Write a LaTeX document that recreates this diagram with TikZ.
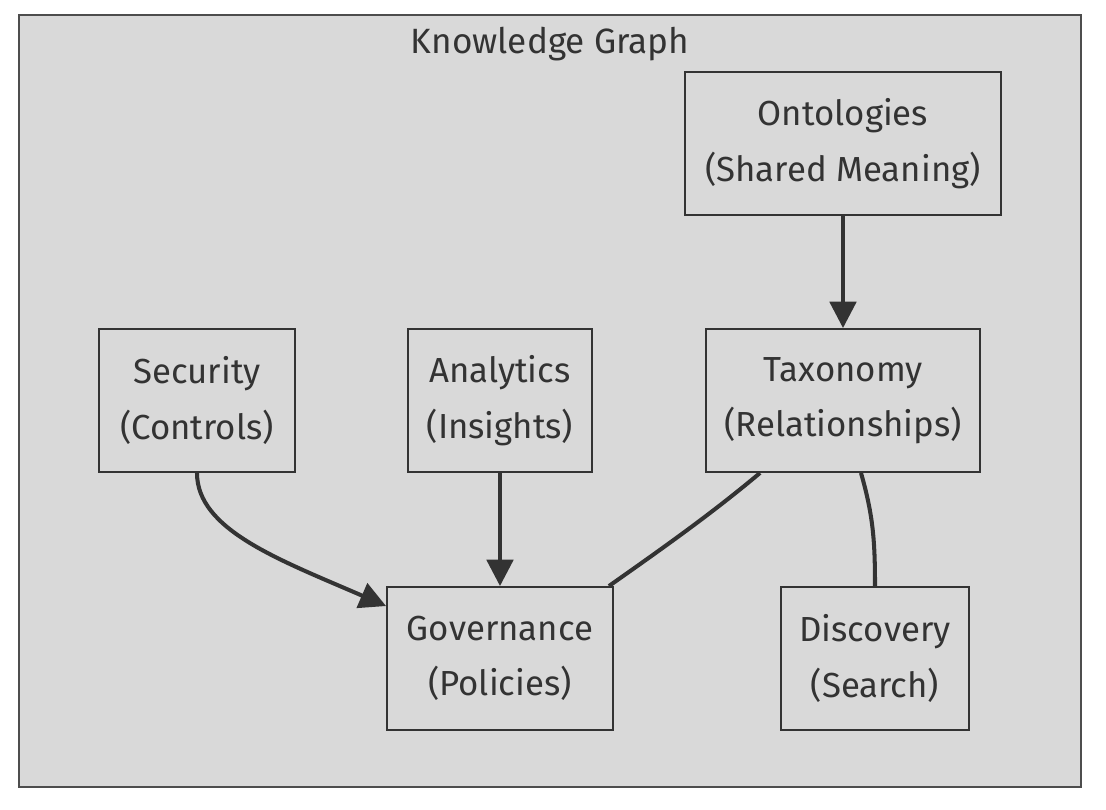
\documentclass[tikz,border=0pt]{standalone}
\usepackage{fontspec}
\setmainfont{Fira Sans}
\usetikzlibrary{arrows.meta, positioning}
\definecolor{kgfill}{HTML}{D9D9D9}
\definecolor{kgline}{HTML}{333333}
\definecolor{kgframe}{HTML}{4D4D4D}

\begin{document}
\begin{tikzpicture}[x=0.02cm, y=-0.02cm,
        box/.style={draw=kgline, line width=1.1pt, fill=kgfill, text=kgline,
            minimum height=2.86cm, align=center, inner sep=0pt,
            font=\fontsize{19.8}{31.5}\selectfont},
        link/.style={draw=kgline, line width=2.3pt},
        arr/.style={link, -{Triangle[length=15pt, width=15pt]}}]
        % Fix the page size to the reference
        \useasboundingbox (0,0) rectangle (1106,810);

        % Outer frame of the knowledge graph
        \draw[draw=kgframe, fill=kgfill, line width=1.1pt] (19,15) rectangle (1081,787);
        \node[text=kgline, font=\fontsize{20}{24}\selectfont] (title) at (550,44) {Knowledge Graph};

        % Top row
        \node[box, minimum width=6.32cm] (onto) at (843,143.5) {Ontologies\\(Shared Meaning)};

        % Middle row
        \node[box, minimum width=3.92cm] (sec) at (197,400.5) {Security\\(Controls)};
        \node[box, minimum width=3.68cm] (ana) at (500,400.5) {Analytics\\(Insights)};
        \node[box, minimum width=5.48cm] (tax) at (843,400.5) {Taxonomy\\(Relationships)};

        % Bottom row
        \node[box, minimum width=4.52cm] (gov) at (500,658.5) {Governance\\(Policies)};
        \node[box, minimum width=3.76cm] (disc) at (875,658.5) {Discovery\\(Search)};

        % Arrows into taxonomy and governance
        \draw[arr] (onto.south) -- (tax.north);
        \draw[arr] (ana.south) -- (gov.north);
        \draw[arr] (sec.south) .. controls (197,530) and (280,560) .. ([yshift=-0.4cm]gov.north west);

        % Plain links out of taxonomy
        \draw[link] ([xshift=-1.66cm]tax.south) .. controls (710,515) and (660,550) .. ([xshift=-0.1cm]gov.north east);
        \draw[link] ([xshift=0.36cm]tax.south) .. controls (873,515) and (875,540) .. (disc.north);
    \end{tikzpicture}
\end{document}
